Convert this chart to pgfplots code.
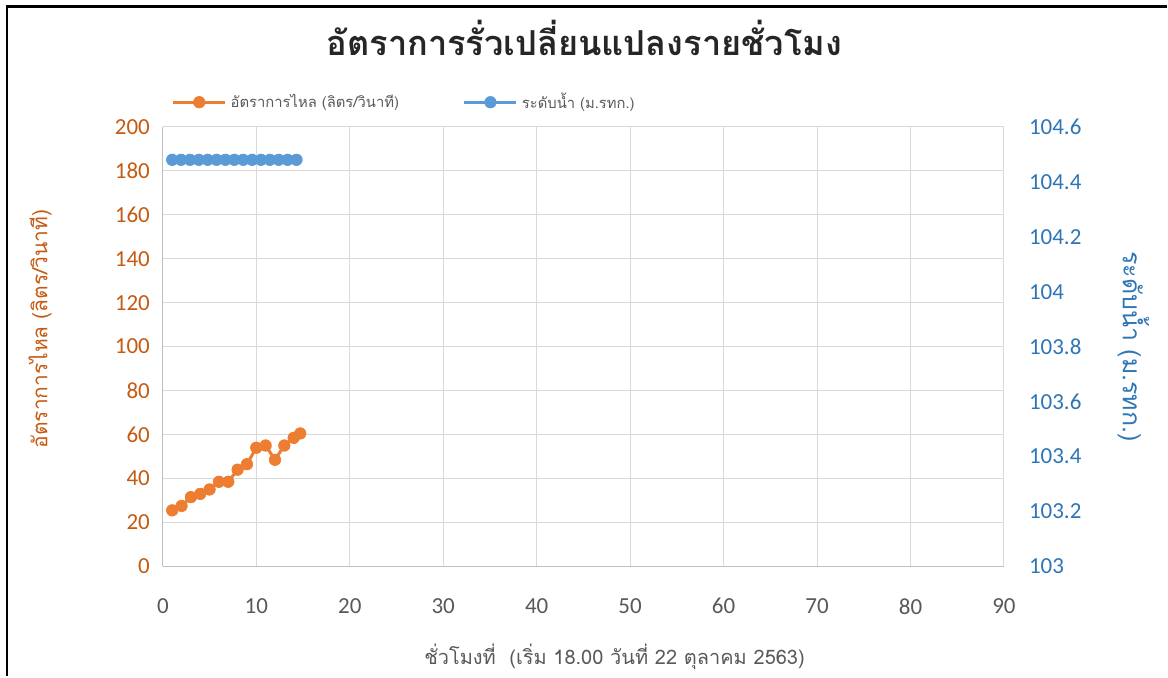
\documentclass[border=0pt]{standalone}
\usepackage{pgfplots}
\pgfplotsset{compat=1.18}
\usepackage{fontspec}
\setmainfont{Carlito}
\newfontfamily\thaifont[Script=Thai]{Loma}

\definecolor{flowline}{HTML}{ED7D31}
\definecolor{flowtext}{HTML}{C55A11}
\definecolor{levelline}{HTML}{5B9BD5}
\definecolor{leveltext}{HTML}{2E75B6}
\definecolor{gridgray}{HTML}{D9D9D9}
\definecolor{axisgray}{HTML}{BFBFBF}
\definecolor{labelgray}{HTML}{595959}

\pgfplotsset{
  seriesline/.style={line width=1.5pt, mark=*, mark size=2.9pt, mark options={line width=0.3pt}},
}

\begin{document}
\begin{tikzpicture}
  % left axis: flow rate
  \begin{axis}[
      scale only axis,
      width=421pt, height=220pt,
      xmin=0, xmax=90, ymin=0, ymax=200,
      xtick distance=10, ytick distance=20,
      axis lines=left,
      axis line style={-, draw=axisgray},
      major tick length=0pt,
      grid=major,
      grid style={draw=gridgray, line width=0.5pt},
      clip=false,
      /pgf/number format/assume math mode=true,
      tick label style={font=\fontsize{11.5}{13}\selectfont},
      xticklabel style={text=labelgray, yshift=-12.5pt},
      yticklabel style={text=flowtext, xshift=-3pt},
      xlabel={\thaifont\fontsize{10}{12}\selectfont ชั่วโมงที่~ (เริ่ม 18.00 วันที่ 22 ตุลาคม 2563)},
      xlabel style={at={(axis description cs:0.537,-0.205)}, anchor=center, text=labelgray},
      ylabel={\thaifont\fontsize{10.5}{12}\selectfont อัตราการไหล (ลิตร/วินาที)},
      ylabel style={at={(axis description cs:-0.146,0.54)}, anchor=center, text=flowtext},
      title={\thaifont\bfseries\fontsize{17.2}{20}\selectfont อัตราการรั่วเปลี่ยนแปลงรายชั่วโมง},
      title style={at={(axis description cs:0.501,1.175)}, anchor=center, text=black!85},
      legend columns=2,
      legend style={at={(axis description cs:0.003,1.056)}, anchor=west, draw=none,
        fill=none, font=\thaifont\fontsize{7.4}{10}\selectfont, text=labelgray,
        /tikz/every even column/.append style={column sep=30pt}},
      legend cell align=left,
      legend image code/.code={
        \draw[mark repeat=2, mark phase=2] plot coordinates {(0pt,0pt) (13pt,0pt) (26pt,0pt)};
      },
    ]
    \addplot[color=flowline, seriesline]
      coordinates {
        (1,25.5)(2,27.5)(3,31.5)(4,33)(5,35)(6,38.5)(7,38.5)(8,44)
        (9,46.5)(10,54)(11,55)(12,48.5)(13,55)(14,58.5)(14.7,60.5)
      };
    \addlegendentry{อัตราการไหล (ลิตร/วินาที)}
    \addlegendimage{color=levelline, seriesline}
    \addlegendentry{ระดับน้ำ (ม.รทก.)}
    % picture frame (cropped screenshot: top and left edges only)
    \path (rel axis cs:-0.1936,-0.25) rectangle (rel axis cs:1.1936,1.2886);
    \draw[black, line width=1.2pt] (rel axis cs:1.1936,1.2739) -- (rel axis cs:-0.1853,1.2739) -- (rel axis cs:-0.1853,-0.25);
  \end{axis}
  % right axis: water level
  \begin{axis}[
      scale only axis,
      width=421pt, height=220pt,
      xmin=0, xmax=90, ymin=103, ymax=104.6,
      ytick={103,103.2,103.4,103.6,103.8,104,104.2,104.4,104.6},
      axis x line=none,
      axis y line*=right,
      axis line style={draw=none},
      major tick length=0pt,
      scaled y ticks=false,
      clip=false,
      /pgf/number format/assume math mode=true,
      /pgf/number format/fixed,
      /pgf/number format/precision=1,
      tick label style={font=\fontsize{11.5}{13}\selectfont},
      yticklabel style={text=leveltext, xshift=9pt},
      ylabel={\thaifont\fontsize{12.5}{14}\selectfont ระดับน้ำ (ม.รทก.)},
      every axis y label/.style={at={(axis description cs:1.154,0.5)}, rotate=-90, anchor=center, text=leveltext},
    ]
    \addplot[color=levelline, seriesline]
      coordinates {
        (1,104.48)(1.95,104.48)(2.9,104.48)(3.85,104.48)(4.8,104.48)
        (5.75,104.48)(6.7,104.48)(7.65,104.48)(8.6,104.48)(9.55,104.48)
        (10.5,104.48)(11.45,104.48)(12.4,104.48)(13.35,104.48)(14.3,104.48)
      };
  \end{axis}
\end{tikzpicture}
\end{document}
